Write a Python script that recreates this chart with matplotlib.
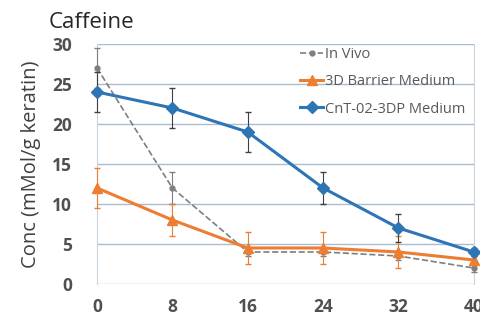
import matplotlib
matplotlib.use("Agg")
import matplotlib.pyplot as plt
from matplotlib.lines import Line2D

# time points (h)
hours = [0, 8, 16, 24, 32, 40]

in_vivo = [27, 12, 4, 4, 3.5, 2]
in_vivo_err = [2.5, 2, 0.5, 0.5, 0.5, 0.5]

barrier = [12, 8, 4.5, 4.5, 4, 3]
barrier_err = [2.5, 2, 2, 2, 2, 0.5]

cnt = [24, 22, 19, 12, 7, 4]
cnt_err = [2.5, 2.5, 2.5, 2, 1.8, 0.5]

yticks = [0, 5, 10, 15, 20, 25, 30]

plt.rcParams['font.family'] = ['Open Sans', 'DejaVu Sans']

fig = plt.figure(figsize=(4.81, 3.21), dpi=100)
ax = fig.add_axes([0.2017, 0.1153, 0.7833, 0.7477])

gray = '#7f7f7f'
orange = '#ed7d31'
blue = '#2e75b6'

ax.errorbar(hours, in_vivo, yerr=in_vivo_err, color=gray, ls='--', lw=1.2,
            marker='o', ms=3.5, ecolor=gray, elinewidth=0.8, capsize=2,
            clip_on=False, zorder=3)
ax.errorbar(hours, barrier, yerr=barrier_err, color=orange, lw=2.2,
            marker='^', ms=7, ecolor=orange, elinewidth=0.8, capsize=2,
            clip_on=False, zorder=4)
ax.errorbar(hours, cnt, yerr=cnt_err, color=blue, lw=2.2,
            marker='D', ms=6, ecolor='#404040', elinewidth=0.8, capsize=2,
            clip_on=False, zorder=5)

ax.set_xlim(0, 40)
ax.set_ylim(0, 30)
ax.set_xticks(hours)
ax.set_yticks(yticks)
ax.yaxis.grid(True, color='#a9bcd0', lw=1)
ax.set_axisbelow(True)
for s in ['top', 'bottom']:
    ax.spines[s].set_visible(False)
for s in ['left', 'right']:
    ax.spines[s].set_color('#c8d4e0')
ax.tick_params(length=0, labelsize=12.5, labelcolor='#505050')
ax.tick_params(axis='y', pad=18)
ax.tick_params(axis='x', pad=10)
for lab in ax.get_xticklabels() + ax.get_yticklabels():
    lab.set_fontweight('bold')

ax.set_ylabel('Conc (mMol/g keratin)', fontsize=14.5, color='#404040', labelpad=8)
fig.text(0.102, 0.93, 'Caffeine', fontsize=16, color='#262626', va='center')

handles = [
    Line2D([], [], color=gray, ls='--', lw=1.2, marker='o', ms=3.5),
    Line2D([], [], color=orange, lw=2.2, marker='^', ms=7),
    Line2D([], [], color=blue, lw=2.2, marker='D', ms=6),
]
labels = ['In Vivo', '3D Barrier Medium', 'CnT-02-3DP Medium']
leg = ax.legend(handles, labels, loc='upper right', bbox_to_anchor=(1.0, 1.025),
                frameon=False, fontsize=10.5, labelspacing=0.85, handlelength=1.6,
                handletextpad=0.1, borderaxespad=0.2)
for t in leg.get_texts():
    t.set_color('#595959')

fig.savefig('out.png', dpi=100)
